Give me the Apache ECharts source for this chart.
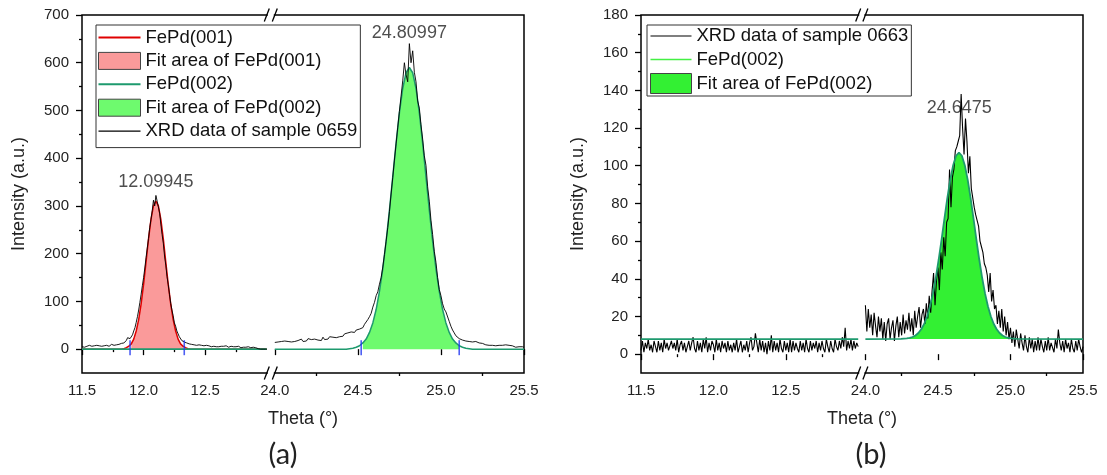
<!DOCTYPE html>
<html><head><meta charset="utf-8">
<script src="https://cdn.jsdelivr.net/npm/echarts@6/dist/echarts.min.js"></script>
<style>html,body{margin:0;padding:0;background:#fff}#c{width:1107px;height:475px}</style>
</head><body><div id="c"></div>
<script>
// ---------------- DATA ----------------
// Tick labels
const xTicksLeft = [11.5, 12.0, 12.5];
const xMinorLeft = [11.75, 12.25, 12.75];
const xTicksRight = [24.0, 24.5, 25.0, 25.5];
const xMinorRight = [24.25, 24.75, 25.25];
const yTicksA = [0, 100, 200, 300, 400, 500, 600, 700];
const yMinorA = [50, 150, 250, 350, 450, 550, 650];
const yTicksB = [0, 20, 40, 60, 80, 100, 120, 140, 160, 180];
const yMinorB = [10, 30, 50, 70, 90, 110, 130, 150, 170];

// Measured theta grid (0.01 deg steps)
const scanStep = 0.01;
const leftScanStart = 11.50;
const rightScanStart = 24.00;

// (a) XRD data of sample 0659
const xrdA_left = [
  5,6,4,7,6,5,8,7,6,5,
  7,9,8,6,7,5,6,8,7,9,
  8,7,6,8,10,9,8,7,9,11,
  10,9,12,10,13,15,18,24,20,22,
  26,30,38,45,56,68,82,98,115,133,
  150,170,192,212,232,255,272,290,312,300,
  322,310,298,285,262,240,222,195,176,152,
  135,115,96,82,70,55,48,38,32,26,
  22,18,16,15,12,13,10,11,9,10,
  8,9,7,8,6,9,7,8,6,7,
  5,8,6,7,6,5,7,6,8,5,
  6,5,7,6,4,6,5,7,6,4,
  5,6,4,5,7,5,4,6,5,3,
  5,4,6,4,3,5,4,3,5,4,
  2,3,2,1,1,0,0,0,0,0,
  0];
const xrdA_right = [
  14,12,15,13,16,14,17,13,16,18,
  15,19,16,14,18,17,21,16,19,17,
  22,18,20,16,21,24,19,22,18,25,
  20,23,21,26,22,25,27,24,28,26,
  30,27,32,30,34,31,36,38,35,40,
  38,42,40,45,52,50,62,68,75,88,
  98,112,120,136,150,172,198,226,255,288,
  325,360,396,430,465,498,530,562,600,575,
  560,640,600,625,580,560,520,505,470,440,
  405,385,340,310,270,240,205,182,150,125,
  112,95,84,78,76,58,48,40,34,28,
  25,22,24,19,21,17,18,16,19,15,
  14,16,12,13,11,12,10,9,11,8,
  10,8,9,7,9,8,6,8,7,9,
  6,8,5,7,6,4,6,5,3,5,
  4];

// (a) FePd(001) fit
const fit001_theta = [11.50,11.82,11.84,11.86,11.88,11.90,11.92,11.94,11.96,11.98,12.00,12.02,12.04,12.06,12.08,12.10,
  12.12,12.14,12.16,12.18,12.20,12.22,12.24,12.26,12.28,12.30,12.32,12.34,12.36,12.38,13.00];
const fit001_I = [0,0,1,3,6,11,21,38,62,95,136,183,231,272,300,310,
  300,272,231,183,136,95,62,38,21,11,6,3,1,0,0];
// (a) FePd(002) fit
const fit002a_leftTheta = [11.50, 13.00];
const fit002a_leftI = [0, 0];
const fit002a_theta = [24.00,24.43,24.45,24.47,24.49,24.51,24.53,24.55,24.57,24.59,24.61,24.63,24.65,24.67,24.69,24.71,
  24.73,24.75,24.77,24.79,24.81,24.83,24.85,24.87,24.89,24.91,24.93,24.95,24.97,24.99,25.01,25.03,25.05,25.07,25.09,
  25.11,25.13,25.15,25.17,25.19,25.50];
const fit002a_I = [0,0,1,2,4,7,13,21,35,55,83,121,168,226,291,361,
  431,495,546,579,590,579,546,495,431,361,291,226,168,121,83,55,35,21,13,
  7,4,2,1,0,0];
// (a) integration limits
const limits001 = [11.89, 12.33];
const limits002a = [24.52, 25.11];
// (a) peak annotations
const peaksA_left = [{theta: 12.09945, label: '12.09945'}];
const peaksA_right = [{theta: 24.80997, label: '24.80997'}];

// (b) XRD data of sample 0663
const xrdB_left = [
  2,7,1,6,3,8,2,5,1,7,
  4,1,7,2,6,1,8,3,6,2,
  1,7,3,6,2,8,1,5,7,2,
  6,1,4,7,2,6,9,3,1,7,
  2,6,1,8,3,9,1,6,2,7,
  5,1,8,2,6,1,7,3,6,1,
  7,2,5,1,6,2,8,1,4,7,
  1,5,2,7,1,6,9,2,4,11,
  6,1,8,2,7,1,6,0,7,2,
  10,1,7,2,6,1,8,3,1,7,
  2,6,1,8,1,7,2,6,3,1,
  7,2,6,1,8,3,1,7,2,6,
  3,7,1,6,2,7,3,1,8,4,
  1,7,3,1,8,4,2,7,3,9,
  4,14,2,7,3,8,2,7,3,6,
  4];
const xrdB_right = [
  26,12,24,14,21,10,22,15,9,20,
  12,19,8,17,7,16,19,8,14,18,
  7,15,20,9,17,10,21,11,18,13,
  22,12,19,10,23,14,20,25,14,21,
  24,16,27,19,31,22,34,43,26,39,
  46,34,54,45,62,52,70,72,98,78,
  94,98,108,110,113,116,138,120,106,125,
  113,96,105,88,87,78,74,73,68,60,
  57,54,48,46,42,33,43,28,34,24,
  26,16,23,14,24,12,20,10,17,8,
  14,6,12,4,13,8,3,11,6,2,
  10,4,1,9,3,8,1,7,2,9,
  2,8,4,1,7,2,9,2,6,7,
  1,8,3,13,6,2,7,1,8,3,
  6,1,8,3,1,7,2,8,4,1,
  4];
// (b) FePd(002) fit
const fitB_leftTheta = [11.50, 13.00];
const fitB_leftI = [8, 8];
const fitB_theta = [24.00,24.245,24.285,24.305,24.325,24.345,24.365,24.385,24.405,24.425,
  24.445,24.465,24.485,24.505,24.525,24.545,24.565,24.585,24.605,24.625,
  24.645,24.665,24.685,24.705,24.725,24.745,24.765,24.785,24.805,24.825,
  24.845,24.865,24.885,24.905,24.925,24.945,24.965,24.985,25.005,25.045,25.50];
const fitB_I = [8,8.1,8.35,8.6,9.1,9.9,11.2,13.2,16,20,
  25.3,32.1,40.4,50.1,60.8,72,82.9,92.6,100.3,105.3,
  107,105.3,100.3,92.6,82.9,72,60.8,50.1,40.4,32.1,
  25.3,20,16,13.2,11.2,9.9,9.1,8.6,8.35,8.1,8];
const fitB_baseline = 8;
const fitB_window = [24.245, 25.045];
const peaksB_right = [{theta: 24.6475, label: '24.6475'}];

// ---------------- HELPERS ----------------
const FONT = 'Liberation Sans, Arial, sans-serif';
function scan(start, arr) { return arr.map((v, i) => [+(start + i * scanStep).toFixed(2), v]); }
function pairs(t, I) { return t.map((x, i) => [x, I[i]]); }
function within(pts, lim) { return pts.filter(p => p[0] >= lim[0] - 1e-9 && p[0] <= lim[1] + 1e-9); }

// Layout (pixels)
const PA = {L: 82, R: 524, leftEnd: 266.8, rightStart: 274.8};
const PB = {L: 641, R: 1083, leftEnd: 858.2, rightStart: 865.4};
const TOP = 15, BOTTOM = 373, H = BOTTOM - TOP;

function frameX(g, name) {
  return {type: 'value', gridIndex: g, min: 0, max: 1, axisLine: {show: false}, axisTick: {show: false},
    axisLabel: {show: false}, splitLine: {show: false}, name: name, nameLocation: 'middle', nameGap: 37,
    nameTextStyle: {fontSize: 18, color: '#222', fontFamily: FONT}};
}
function frameY(g, name) {
  return {type: 'value', gridIndex: g, min: 0, max: 1, axisLine: {show: false}, axisTick: {show: false},
    axisLabel: {show: false}, splitLine: {show: false}, name: name, nameLocation: 'middle', nameGap: 54, nameRotate: 90,
    nameTextStyle: {fontSize: 18, color: '#222', fontFamily: FONT}};
}
function segX(g, min, max, vals, major) {
  return {type: 'value', gridIndex: g, min: min, max: max, position: 'bottom',
    axisLine: {show: false}, splitLine: {show: false},
    axisTick: {show: true, inside: false, length: major ? 6 : 3, customValues: vals, lineStyle: {color: '#000', width: 1.3}},
    axisLabel: major ? {show: true, customValues: vals, formatter: v => Number(v).toFixed(1), fontSize: 15,
      color: '#222', margin: 10, fontFamily: FONT} : {show: false}};
}
function segY(g, min, max, vals, major) {
  return {type: 'value', gridIndex: g, min: min, max: max, position: 'left',
    axisLine: {show: false}, splitLine: {show: false},
    axisTick: {show: true, inside: false, length: major ? 6 : 3, customValues: vals, lineStyle: {color: '#000', width: 1.3}},
    axisLabel: major ? {show: true, customValues: vals, fontSize: 15, color: '#222', margin: 13, fontFamily: FONT} : {show: false}};
}
function hiddenY(g, min, max) {
  return {type: 'value', gridIndex: g, min: min, max: max, position: 'right', axisLine: {show: false},
    axisTick: {show: false}, axisLabel: {show: false}, splitLine: {show: false}};
}
function lineS(name, xi, yi, data, color, width, z) {
  return {type: 'line', name: name, xAxisIndex: xi, yAxisIndex: yi, data: data, symbol: 'none', z: z,
    lineStyle: {color: color, width: width}, itemStyle: {color: color}, animation: false, silent: true};
}
function fillS(name, xi, yi, data, color, origin) {
  return {type: 'line', name: name, xAxisIndex: xi, yAxisIndex: yi, data: data, symbol: 'none', z: 1,
    lineStyle: {width: 0}, itemStyle: {color: color}, areaStyle: {color: color, opacity: 1, origin: origin},
    animation: false, silent: true};
}
function limitS(xi, yi, lims) {
  return {type: 'scatter', xAxisIndex: xi, yAxisIndex: yi, data: lims.map(x => [x, 3]), symbol: 'rect',
    symbolSize: [1.6, 15], itemStyle: {color: '#2036F0'}, z: 5, silent: true, animation: false};
}
function peakS(xi, yi, peaks, yVal) {
  return {type: 'scatter', xAxisIndex: xi, yAxisIndex: yi, symbolSize: 0, z: 1, silent: true, animation: false,
    data: peaks.map(p => ({value: [p.theta, yVal], label: {formatter: p.label}})),
    label: {show: true, position: 'inside', fontSize: 18, color: '#222', fontFamily: FONT}};
}
function lineIcon(w) { return 'path://M0,0h40v' + w + 'h-40z'; }

const pts001 = pairs(fit001_theta, fit001_I);
const pts002a = pairs(fit002a_theta, fit002a_I);
const ptsB = pairs(fitB_theta, fitB_I);

const option = {
  animation: false,
  backgroundColor: '#fff',
  grid: [
    {left: PA.L, top: TOP, width: PA.R - PA.L, height: H, show: true, borderColor: '#000', borderWidth: 1.5, backgroundColor: 'transparent'},
    {left: PA.L, top: TOP, width: PA.leftEnd - PA.L, height: H},
    {left: PA.rightStart, top: TOP, width: PA.R - PA.rightStart, height: H},
    {left: PB.L, top: TOP, width: PB.R - PB.L, height: H, show: true, borderColor: '#000', borderWidth: 1.5, backgroundColor: 'transparent'},
    {left: PB.L, top: TOP, width: PB.leftEnd - PB.L, height: H},
    {left: PB.rightStart, top: TOP, width: PB.R - PB.rightStart, height: H}
  ],
  xAxis: [
    frameX(0, 'Theta (°)'),
    segX(1, 11.5, 13.0, xTicksLeft, true),
    segX(1, 11.5, 13.0, xMinorLeft, false),
    segX(2, 24.0, 25.5, xTicksRight, true),
    segX(2, 24.0, 25.5, xMinorRight, false),
    frameX(3, 'Theta (°)'),
    segX(4, 11.5, 13.0, xTicksLeft, true),
    segX(4, 11.5, 13.0, xMinorLeft, false),
    segX(5, 24.0, 25.5, xTicksRight, true),
    segX(5, 24.0, 25.5, xMinorRight, false)
  ],
  yAxis: [
    frameY(0, 'Intensity (a.u.)'),
    segY(1, -50, 700, yTicksA, true),
    segY(1, -50, 700, yMinorA, false),
    hiddenY(2, -50, 700),
    frameY(3, 'Intensity (a.u.)'),
    segY(4, -10, 180, yTicksB, true),
    segY(4, -10, 180, yMinorB, false),
    hiddenY(5, -10, 180)
  ],
  legend: [
    {orient: 'vertical', left: 96, top: 25, itemWidth: 42, itemHeight: 17, itemGap: 4.4, padding: [3, 3, 7, 2],
      borderColor: '#333', borderWidth: 1, selectedMode: false,
      textStyle: {fontSize: 18.5, fontFamily: FONT, color: '#111', lineHeight: 18},
      data: [
        {name: 'FePd(001)', icon: lineIcon(2), itemStyle: {color: '#E00000', borderWidth: 0}},
        {name: 'Fit area of FePd(001)', icon: 'rect', itemStyle: {color: '#FA9A9A', borderColor: '#444', borderWidth: 1}},
        {name: 'FePd(002)', icon: lineIcon(2), itemStyle: {color: '#1E9A6E', borderWidth: 0}},
        {name: 'Fit area of FePd(002)', icon: 'rect', itemStyle: {color: '#6EFA6E', borderColor: '#444', borderWidth: 1}},
        {name: 'XRD data of sample 0659', icon: lineIcon(1), itemStyle: {color: '#000', borderWidth: 0}}
      ]},
    {orient: 'vertical', left: 647, top: 25, itemWidth: 41, itemHeight: 20, itemGap: 3.5, padding: [1, 3, 2, 3],
      borderColor: '#333', borderWidth: 1, selectedMode: false,
      formatter: n => n.replace(/^b:/, ''),
      textStyle: {fontSize: 18.5, fontFamily: FONT, color: '#111', lineHeight: 20},
      data: [
        {name: 'XRD data of sample 0663', icon: lineIcon(1.6), itemStyle: {color: '#555', borderWidth: 0}},
        {name: 'b:FePd(002)', icon: lineIcon(1.6), itemStyle: {color: '#44F044', borderWidth: 0}},
        {name: 'b:Fit area of FePd(002)', icon: 'rect', itemStyle: {color: '#33F033', borderColor: '#444', borderWidth: 1}}
      ]}
  ],
  series: [
    // panel (a)
    fillS('Fit area of FePd(001)', 1, 1, within(pts001, limits001), '#FA9A9A', 0),
    fillS('Fit area of FePd(002)', 3, 3, within(pts002a, limits002a), '#6EFA6E', 0),
    lineS('FePd(001)', 1, 1, pts001, '#E00000', 1.5, 2),
    lineS('FePd(002)', 1, 1, pairs(fit002a_leftTheta, fit002a_leftI), '#1E9A6E', 1.8, 3),
    lineS('FePd(002)', 3, 3, pts002a, '#1E9A6E', 1.5, 2),
    lineS('XRD data of sample 0659', 1, 1, scan(leftScanStart, xrdA_left), '#000', 0.9, 4),
    lineS('XRD data of sample 0659', 3, 3, scan(rightScanStart, xrdA_right), '#000', 0.9, 4),
    limitS(1, 1, limits001),
    limitS(3, 3, limits002a),
    peakS(1, 1, peaksA_left, 351),
    peakS(3, 3, peaksA_right, 662),
    // panel (b)
    fillS('b:Fit area of FePd(002)', 8, 7, within(ptsB, fitB_window), '#33F033', fitB_baseline),
    lineS('XRD data of sample 0663', 6, 5, scan(leftScanStart, xrdB_left), '#000', 1.1, 2),
    lineS('XRD data of sample 0663', 8, 7, scan(rightScanStart, xrdB_right), '#000', 1.1, 2),
    lineS('b:FePd(002)', 6, 5, pairs(fitB_leftTheta, fitB_leftI), '#1E9A6E', 1.8, 4),
    lineS('b:FePd(002)', 8, 7, ptsB, '#1E9A6E', 1.8, 4),
    peakS(8, 7, peaksB_right, 130.5)
  ],
  graphic: []
};

// break marks and captions
function breakMarks(P) {
  const els = [];
  [TOP, BOTTOM].forEach(y => {
    els.push({type: 'rect', shape: {x: P.leftEnd + 1, y: y - 3, width: P.rightStart - P.leftEnd - 2, height: 6},
      style: {fill: '#fff'}, z: 100, silent: true});
    [P.leftEnd, P.rightStart].forEach(x => {
      els.push({type: 'line', shape: {x1: x - 2.5, y1: y + 6.5, x2: x + 2.5, y2: y - 6.5},
        style: {stroke: '#000', lineWidth: 1.3}, z: 101, silent: true});
    });
  });
  return els;
}
option.graphic = [].concat(breakMarks(PA), breakMarks(PB), [
  {type: 'text', x: (PA.L + PA.R) / 2 - 20, y: 455, z: 100, silent: true,
    style: {text: '(a)', fontSize: 29, fontFamily: 'Lato, Open Sans, sans-serif', fill: '#222', align: 'center', verticalAlign: 'middle'}},
  {type: 'text', x: (PB.L + PB.R) / 2 + 9, y: 455, z: 100, silent: true,
    style: {text: '(b)', fontSize: 29, fontFamily: 'Lato, Open Sans, sans-serif', fill: '#222', align: 'center', verticalAlign: 'middle'}}
]);

const chart = echarts.init(document.getElementById('c'), null, {renderer: 'canvas'});
chart.setOption(option);
</script>
</body></html>
